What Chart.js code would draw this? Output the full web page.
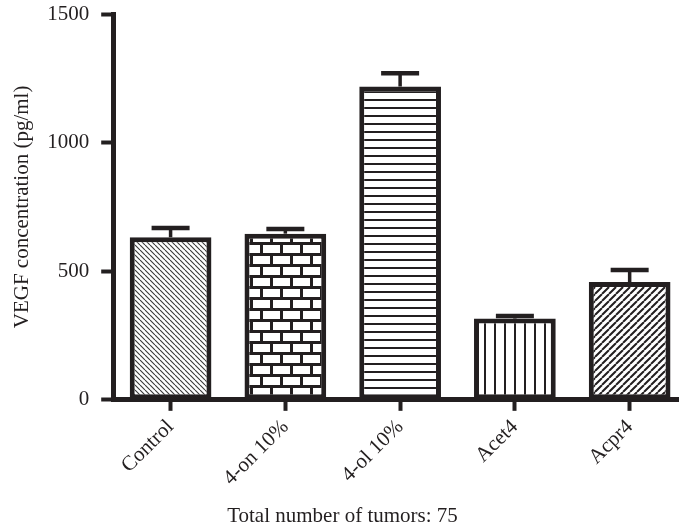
<!DOCTYPE html>
<html>
<head>
<meta charset="utf-8">
<script src="https://cdn.jsdelivr.net/npm/chart.js@4/dist/chart.umd.min.js"></script>
<style>
  html, body { margin: 0; padding: 0; background: #fff; overflow: hidden; }
  #wrap { width: 679px; height: 529px; }
</style>
</head>
<body>
<div id="wrap"><canvas id="myChart"></canvas></div>
<script>
// Data
const categories = ['Control', '4-on 10%', '4-ol 10%', 'Acet4', 'Acpr4'];
const vegf = [632, 646, 1218, 316, 458];
const sem = [36, 18, 52, 10, 47];
const yTicks = [0, 500, 1000, 1500];

const ink = '#231f20';

// Build a fill pattern for each bar
function makePattern(kind) {
    const c = document.createElement('canvas');
    const g = c.getContext('2d');
    if (kind === 'back') {
        c.width = 5; c.height = 5;
        g.fillStyle = '#fff'; g.fillRect(0, 0, 5, 5);
        g.strokeStyle = '#3a3a3a'; g.lineWidth = 1.1;
        g.beginPath();
        [-5, 0, 5].forEach(o => { g.moveTo(o, 0); g.lineTo(o + 5, 5); });
        g.stroke();
    } else if (kind === 'slash') {
        c.width = 7; c.height = 7;
        g.fillStyle = '#fff'; g.fillRect(0, 0, 7, 7);
        g.strokeStyle = ink; g.lineWidth = 2;
        g.beginPath();
        [-7, 0, 7].forEach(o => { g.moveTo(o, 7); g.lineTo(o + 7, 0); });
        g.stroke();
    } else if (kind === 'hor') {
        c.width = 8; c.height = 8;
        g.fillStyle = '#fff'; g.fillRect(0, 0, 8, 8);
        g.fillStyle = ink; g.fillRect(0, 3, 8, 2);
    } else if (kind === 'vert') {
        c.width = 10; c.height = 10;
        g.fillStyle = '#fff'; g.fillRect(0, 0, 10, 10);
        g.fillStyle = ink; g.fillRect(4, 0, 2, 10);
    } else if (kind === 'brick') {
        c.width = 20; c.height = 22;
        g.fillStyle = '#fff'; g.fillRect(0, 0, 20, 22);
        g.fillStyle = ink;
        g.fillRect(0, 0, 20, 3);
        g.fillRect(0, 11, 20, 3);
        g.fillRect(0, 0, 3, 11);
        g.fillRect(10, 11, 3, 11);
    }
    return g.createPattern(c, 'repeat');
}

const fills = ['back', 'brick', 'hor', 'vert', 'slash'].map(makePattern);

// Upward-only error bars (mean + SEM)
const errorBars = {
    id: 'errorBars',
    afterDatasetsDraw(chart) {
        const ctx = chart.ctx;
        const meta = chart.getDatasetMeta(0);
        const yScale = chart.scales.y;
        ctx.save();
        ctx.strokeStyle = ink;
        meta.data.forEach((bar, i) => {
            const top = yScale.getPixelForValue(vegf[i] + sem[i]);
            ctx.lineWidth = 3.5;
            ctx.beginPath();
            ctx.moveTo(bar.x, bar.y);
            ctx.lineTo(bar.x, top);
            ctx.stroke();
            ctx.lineWidth = 4.5;
            ctx.beginPath();
            ctx.moveTo(bar.x - 19, top);
            ctx.lineTo(bar.x + 19, top);
            ctx.stroke();
        });
        ctx.restore();
    }
};

const font = { family: '"Liberation Serif", "Times New Roman", serif', size: 21 };

const ctx = document.getElementById('myChart').getContext('2d');
const myChart = new Chart(ctx, {
    type: 'bar',
    data: {
        datasets: [{
            data: vegf.map((v, i) => ({ x: i, y: v })),
            backgroundColor: fills,
            borderColor: ink,
            borderWidth: 5,
            borderSkipped: false,
            categoryPercentage: 0.8,
            barPercentage: 0.89
        }]
    },
    options: {
        responsive: true,
        maintainAspectRatio: false,
        animation: false,
        layout: { padding: { left: 6, top: 14, right: 0, bottom: 0 } },
        plugins: {
            legend: { display: false },
            tooltip: { enabled: false },
            title: {
                display: true,
                position: 'bottom',
                text: 'Total number of tumors: 75',
                color: ink,
                font: { ...font, weight: 'normal' },
                padding: { top: 9, bottom: 0 }
            }
        },
        scales: {
            x: {
                type: 'linear',
                min: -0.5,
                max: 4.43,
                offset: false,
                grid: {
                    offset: false,
                    drawOnChartArea: false,
                    tickLength: 11,
                    tickWidth: 4,
                    tickColor: ink
                },
                border: { color: ink, width: 5 },
                ticks: {
                    stepSize: 1,
                    includeBounds: false,
                    autoSkip: false,
                    maxRotation: 45,
                    minRotation: 45,
                    padding: 4,
                    color: ink,
                    font: font,
                    callback: v => categories[v] ?? ''
                }
            },
            y: {
                min: 0,
                max: 1500,
                afterBuildTicks: s => { s.ticks = yTicks.map(v => ({ value: v })); },
                // label padding would otherwise push the top of the axis down
                afterFit: s => { s.paddingTop = 0; s.paddingBottom = 0; },
                grid: {
                    drawOnChartArea: false,
                    tickLength: 12,
                    tickWidth: 4,
                    tickColor: ink
                },
                border: { color: ink, width: 5 },
                ticks: { padding: 12, color: ink, font: font, callback: v => String(v) },
                title: {
                    display: true,
                    text: 'VEGF concentration (pg/ml)',
                    color: ink,
                    font: font,
                    padding: { top: 4, bottom: 0 }
                }
            }
        }
    },
    plugins: [errorBars]
});
</script>
</body>
</html>
